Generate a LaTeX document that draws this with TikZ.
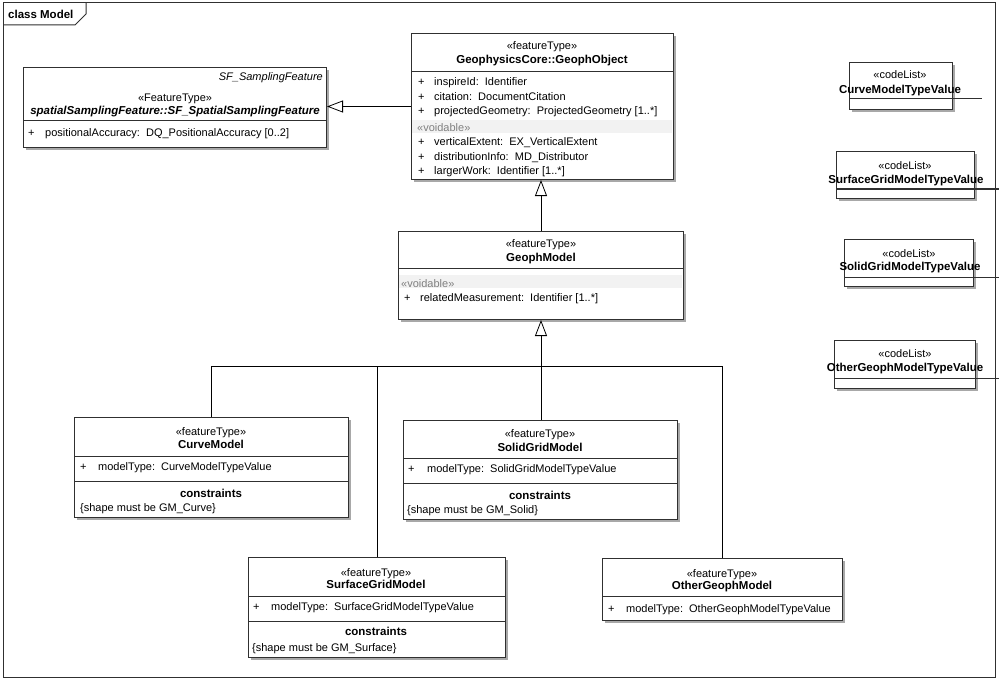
\documentclass[tikz,border=0pt]{standalone}
\usepackage{fontspec}
\setmainfont{Liberation Sans}
\usetikzlibrary{arrows.meta}
\definecolor{shadowc}{HTML}{A8A8A8}
\definecolor{voidband}{HTML}{F2F2F2}
\definecolor{voidtext}{HTML}{808080}
\definecolor{edgec}{HTML}{303030}
\newcommand\regf{\fontsize{11}{12}\selectfont}
\newcommand\boldf{\fontsize{11.5}{12}\selectfont\bfseries}
\tikzset{
  boxst/.style={draw=edgec, fill=white, line width=1pt, inner sep=0pt, rectangle},
  txt/.style={inner sep=0pt, text height=7.5pt, text depth=2pt, yshift=-1.3pt, font=\regf},
  lft/.style={txt, anchor=west},
  rgt/.style={txt, anchor=east},
  ctr/.style={txt, anchor=center},
  bld/.style={txt, anchor=center, font=\boldf},
  vtxt/.style={lft, text=voidtext},
  divl/.style={draw=edgec, line width=1pt},
  conn/.style={draw=black, line width=0.8pt},
  gen/.style={conn, -{Triangle[open, length=16pt, width=12pt, fill=white]}},
}
\newcommand\ubox[5]{%
  \fill[shadowc] (#2+3,#3+3) rectangle (#4+3,#5+3);
  \node[boxst, anchor=north west, minimum width={(#4)-(#2)}, minimum height={(#5)-(#3)}] (#1) at (#2,#3) {};
}
\begin{document}
\begin{tikzpicture}[x=1pt,y=-1pt]
\useasboundingbox (0,0) rectangle (999,682);
\fill[white] (0,0) rectangle (999,682);
% frame
\draw[edgec, line width=1pt] (3,3) rectangle (995,677);
\draw[edgec, line width=1pt] (3,25) -- (75,25) -- (86,14) -- (86,3);
\node[lft, font=\boldf] (title) at (8,14) {class Model};

% SF_SpatialSamplingFeature
\ubox{sf}{23}{67}{326}{147}
\draw[divl] (23,121) -- (326,121);
\node[rgt, font=\regf\itshape] at (323,76) {SF\_SamplingFeature};
\node[ctr] at (175,97) {«FeatureType»};
\node[bld, font=\boldf\itshape] at (175,110) {spatialSamplingFeature::SF\_SpatialSamplingFeature};
\node[lft] at (28,132) {+};
\node[lft] at (45,132) {positionalAccuracy:\ \ DQ\_PositionalAccuracy [0..2]};

% GeophObject
\ubox{obj}{411}{33}{673}{179}
\draw[divl] (411,72) -- (673,72);
\node[ctr] at (542,45) {«featureType»};
\node[bld] at (542,59) {GeophysicsCore::GeophObject};
\node[lft] at (418,81) {+};
\node[lft] at (434,81) {inspireId:\ \ Identifier};
\node[lft] at (418,96) {+};
\node[lft] at (434,96) {citation:\ \ DocumentCitation};
\node[lft] at (418,110) {+};
\node[lft] at (434,110) {projectedGeometry:\ \ ProjectedGeometry [1..*]};
\fill[voidband] (412,120) rectangle (672,133);
\node[vtxt] at (417,127) {«voidable»};
\node[lft] at (418,141) {+};
\node[lft] at (434,141) {verticalExtent:\ \ EX\_VerticalExtent};
\node[lft] at (418,156) {+};
\node[lft] at (434,156) {distributionInfo:\ \ MD\_Distributor};
\node[lft] at (418,170) {+};
\node[lft] at (434,170) {largerWork:\ \ Identifier [1..*]};

% GeophModel
\ubox{model}{398}{231}{683}{319}
\draw[divl] (398,268) -- (683,268);
\node[ctr] at (541,243) {«featureType»};
\node[bld] at (541,257) {GeophModel};
\fill[voidband] (399,275) rectangle (682,288);
\node[vtxt] at (401,283) {«voidable»};
\node[lft] at (404,297) {+};
\node[lft] at (420,297) {relatedMeasurement:\ \ Identifier [1..*]};

% CurveModel
\ubox{curve}{74}{417}{348}{517}
\draw[divl] (74,456) -- (348,456);
\draw[divl] (74,481) -- (348,481);
\node[ctr] at (211,431) {«featureType»};
\node[bld] at (211,444) {CurveModel};
\node[lft] at (80,466) {+};
\node[lft] at (98,466) {modelType:\ \ CurveModelTypeValue};
\node[bld] at (211,493) {constraints};
\node[lft] at (80,507) {\{shape must be GM\_Curve\}};

% SolidGridModel
\ubox{solid}{403}{420}{677}{519}
\draw[divl] (403,458) -- (677,458);
\draw[divl] (403,483) -- (677,483);
\node[ctr] at (540,433) {«featureType»};
\node[bld] at (540,447) {SolidGridModel};
\node[lft] at (408,468) {+};
\node[lft] at (427,468) {modelType:\ \ SolidGridModelTypeValue};
\node[bld] at (540,495) {constraints};
\node[lft] at (407,509) {\{shape must be GM\_Solid\}};

% SurfaceGridModel
\ubox{surface}{248}{557}{505}{657}
\draw[divl] (248,596) -- (505,596);
\draw[divl] (248,621) -- (505,621);
\node[ctr] at (376,572) {«featureType»};
\node[bld] at (376,584) {SurfaceGridModel};
\node[lft] at (253,606) {+};
\node[lft] at (271,606) {modelType:\ \ SurfaceGridModelTypeValue};
\node[bld] at (376,631) {constraints};
\node[lft] at (252,647) {\{shape must be GM\_Surface\}};

% OtherGeophModel
\ubox{other}{602}{558}{842}{620}
\draw[divl] (602,596) -- (842,596);
\node[ctr] at (722,573) {«featureType»};
\node[bld] at (722,585) {OtherGeophModel};
\node[lft] at (608,608) {+};
\node[lft] at (626,608) {modelType:\ \ OtherGeophModelTypeValue};

% code lists
\ubox{cla}{849}{62}{952}{109}
\draw[divl] (cla.west |- 0,99) -- (982,99);
\node[ctr] at (900,74) {«codeList»};
\node[bld] at (900,89) {CurveModelTypeValue};

\ubox{clb}{836}{151}{974}{198}
\draw[divl] (clb.west |- 0,189) -- (999,189);
\node[ctr] at (905,165) {«codeList»};
\node[bld] at (906,179) {SurfaceGridModelTypeValue};

\ubox{clc}{844}{239}{973}{286}
\draw[divl] (clc.west |- 0,277) -- (999,277);
\node[ctr] at (909,253) {«codeList»};
\node[bld] at (910,266) {SolidGridModelTypeValue};

\ubox{cld}{834}{340}{975}{388}
\draw[divl] (cld.west |- 0,378) -- (999,378);
\node[ctr] at (905,353) {«codeList»};
\node[bld] at (905,367) {OtherGeophModelTypeValue};

% connectors
\draw[gen] (obj.west) -- (obj.west -| sf.east);
\draw[gen] (model.north) -- (model.north |- obj.south);
\coordinate (junc) at (541,366);
\draw[conn] (curve.north) |- (junc);
\draw[conn] (surface.north) |- (junc);
\draw[conn] (other.north) |- (junc);
\draw[gen] (solid.north -| model.south) -- (model.south);
\end{tikzpicture}
\end{document}
